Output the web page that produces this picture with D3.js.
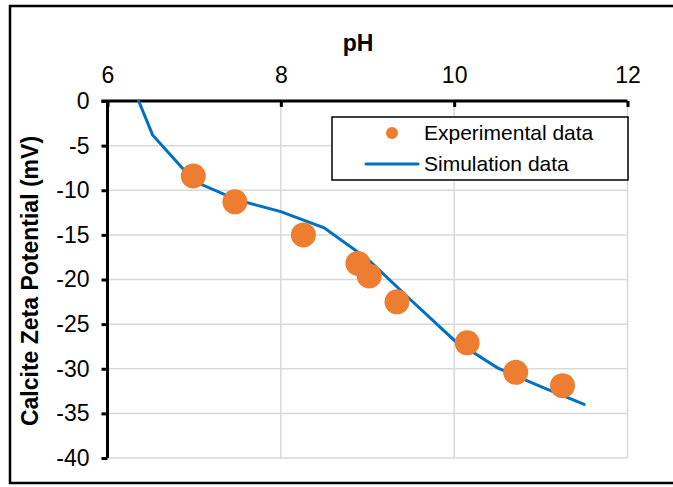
<!DOCTYPE html>
<html>
<head>
<meta charset="utf-8">
<script src="https://cdn.jsdelivr.net/npm/d3@7"></script>
<style>
  html, body { margin: 0; padding: 0; background: #fff; }
  svg { display: block; font-family: "Liberation Sans", Arial, sans-serif; }
</style>
</head>
<body>
<svg id="chart" width="673" height="487"></svg>
<script>
// Data
const expPH   = [6.99, 7.47, 8.26, 8.89, 9.02, 9.34, 10.15, 10.71, 11.25];
const expZeta = [-8.4, -11.3, -15.0, -18.2, -19.6, -22.5, -27.1, -30.4, -31.9];
const simPH   = [6.36, 6.52, 7.0, 7.5, 8.0, 8.5, 9.0, 9.5, 10.0, 10.5, 11.0, 11.5];
const simZeta = [0.0, -3.8, -9.0, -11.1, -12.4, -14.2, -17.7, -22.3, -26.8, -29.9, -32.0, -34.0];
const xTicks = [6, 8, 10, 12];
const yTicks = [0, -5, -10, -15, -20, -25, -30, -35, -40];
const seriesNames = ["Experimental data", "Simulation data"];

const FONT = "'Liberation Sans', Arial, sans-serif";
const svg = d3.select("#chart");
const L = 107.5, R = 627.5, T = 101, B = 458;
const x = d3.scaleLinear().domain([6, 12]).range([L, R]);
const y = d3.scaleLinear().domain([0, -40]).range([T, B]);
const fmt = d => String(d).replace("\u2212", "-");

// outer border
svg.append("rect").attr("x", 10).attr("y", 6).attr("width", 670).attr("height", 477)
  .attr("fill", "none").attr("stroke", "#000").attr("stroke-width", 2.5);

// gridlines
const grid = svg.append("g");
grid.selectAll(".gx").data(xTicks.slice(1)).join("line")
  .attr("x1", d => x(d)).attr("x2", d => x(d)).attr("y1", T).attr("y2", B)
  .attr("stroke", "#d9d9d9").attr("stroke-width", 1.5);
grid.selectAll(".gy").data(yTicks.slice(1)).join("line")
  .attr("x1", L).attr("x2", R).attr("y1", d => y(d)).attr("y2", d => y(d))
  .attr("stroke", "#d9d9d9").attr("stroke-width", 1.5);

// y axis (left)
const yAxis = svg.append("g").attr("transform", `translate(${L},0)`)
  .call(d3.axisLeft(y).tickValues(yTicks).tickSize(6).tickPadding(12).tickFormat(fmt));
yAxis.attr("font-size", 23).attr("font-family", FONT);
yAxis.select(".domain").attr("stroke", "#000").attr("stroke-width", 3).attr("d", `M0,${T}V${B}`);
yAxis.selectAll(".tick line").attr("stroke", "#000").attr("stroke-width", 3);
yAxis.selectAll(".tick text").attr("fill", "#000");

// x axis (top, ticks inside)
const xAxis = svg.append("g").attr("transform", `translate(0,${T})`)
  .call(d3.axisTop(x).tickValues(xTicks).tickSizeInner(-6).tickSizeOuter(0).tickPadding(12).tickFormat(fmt));
xAxis.attr("font-size", 23).attr("font-family", FONT);
xAxis.select(".domain").attr("stroke", "#000").attr("stroke-width", 3).attr("d", `M${L - 6},0H${R}`);
xAxis.selectAll(".tick line").attr("stroke", "#000").attr("stroke-width", 3);
xAxis.selectAll(".tick text").attr("fill", "#000").attr("y", -18).attr("dy", "0");

// simulation line
const simData = simPH.map((p, i) => [p, simZeta[i]]);
svg.append("path").datum(simData)
  .attr("d", d3.line().x(d => x(d[0])).y(d => y(d[1])))
  .attr("fill", "none").attr("stroke", "#0070C0").attr("stroke-width", 3).attr("stroke-linecap", "round");

// experimental points
const expData = expPH.map((p, i) => [p, expZeta[i]]);
svg.append("g").selectAll("circle").data(expData).join("circle")
  .attr("cx", d => x(d[0])).attr("cy", d => y(d[1])).attr("r", 12.5)
  .attr("fill", "#ED7D31");

// axis titles
svg.append("text").attr("x", 358).attr("y", 51).attr("text-anchor", "middle")
  .attr("font-size", 23).attr("font-weight", "bold").text("pH");
svg.append("text").attr("transform", "translate(38,281) rotate(-90)").attr("text-anchor", "middle")
  .attr("font-size", 23).attr("font-weight", "bold").text("Calcite Zeta Potential (mV)");

// legend
const lg = svg.append("g");
lg.append("rect").attr("x", 332).attr("y", 117).attr("width", 296).attr("height", 63)
  .attr("fill", "#fff").attr("stroke", "#000").attr("stroke-width", 1.5);
lg.append("circle").attr("cx", 392).attr("cy", 133).attr("r", 6).attr("fill", "#ED7D31");
lg.append("line").attr("x1", 366).attr("x2", 418).attr("y1", 164).attr("y2", 164)
  .attr("stroke", "#0070C0").attr("stroke-width", 3).attr("stroke-linecap", "round");
lg.append("text").attr("x", 424).attr("y", 140).attr("font-size", 21).text(seriesNames[0]);
lg.append("text").attr("x", 424).attr("y", 171).attr("font-size", 21).text(seriesNames[1]);
</script>
</body>
</html>
